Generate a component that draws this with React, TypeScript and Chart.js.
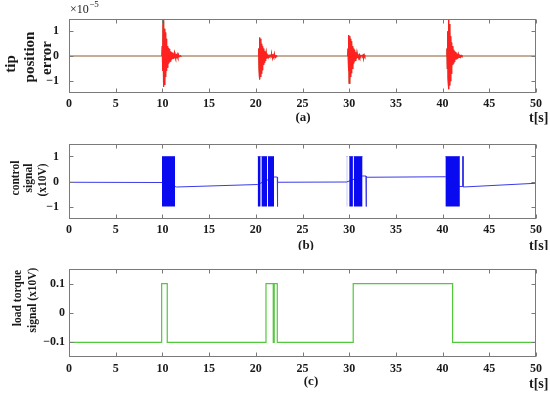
import React, { useEffect, useRef } from 'react';
import { Chart, registerables } from 'chart.js';

Chart.register(...registerables);

// ---------- tick labels ----------
const xTicks = [0, 5, 10, 15, 20, 25, 30, 35, 40, 45, 50];
const yTicksAB = [-1, 0, 1];
const yTicksC = [-0.1, 0, 0.1];

// ---------- axis titles ----------
const titleA = ['tip', 'position', 'error'];
const titleB = ['control', 'signal', '(x10V)'];
const titleC = ['load torque', 'signal (x10V)'];

// ---------- (a) tip position error (x1e-5), sampled bursts ----------
const errStep = 0.04;
const burst1Start = 9.95;
const burst1 = [0, 0.4, -0.6, 1.45, -1.25, 1.3, -1.15, 1.1, -1.0, 0.95, -0.85, 0.7, -0.6, 0.5, -0.45, 0.4, -0.35, 0.32, -0.3, 0.28, -0.25, 0.22, -0.2, 0.18, -0.17, 0.15, -0.14, 0.13, -0.12, 0.11, -0.1, 0.09, -0.08, 0.08, -0.07, 0.06, -0.05, 0.06, -0.07, 0.08, -0.07, 0.05, -0.04, 0.03, -0.03, 0.02, -0.02, 0.01, -0.01, 0.01, 0, 0];
const burst2Start = 20.27;
const burst2 = [0, 0.3, -0.5, 0.75, -0.95, 0.7, -0.85, 0.6, -0.7, 0.5, -0.55, 0.4, -0.45, 0.3, -0.35, 0.25, -0.25, 0.2, -0.18, 0.15, -0.13, 0.11, -0.1, 0.08, -0.07, 0.06, -0.05, 0.04, -0.03, 0.02, -0.02, 0.01, 0, 0.01, -0.01, 0, 0.05, -0.06, 0.07, -0.05, 0.03, -0.02, 0, 0, 0.04, -0.05, 0.04, -0.03, 0.01, 0];
const burst3Start = 29.84;
const burst3 = [0, 0.3, -0.6, 0.85, -1.1, 0.8, -1.0, 0.7, -0.85, 0.6, -0.7, 0.5, -0.5, 0.4, -0.4, 0.3, -0.3, 0.25, -0.22, 0.2, -0.18, 0.15, -0.14, 0.12, -0.1, 0.09, -0.08, 0.07, -0.06, 0.05, -0.04, 0.03, -0.03, 0.02, -0.02, 0.01, 0, 0, 0.01, 0, 0.05, -0.07, 0.08, -0.06, 0.04, -0.02, 0.01, 0];
const burst4Start = 40.43;
const burst4 = [0, 0.3, -0.5, 1.0, -0.9, 1.5, -1.35, 1.3, -1.2, 1.1, -1.0, 0.8, -0.7, 0.55, -0.5, 0.4, -0.35, 0.3, -0.28, 0.25, -0.22, 0.2, -0.18, 0.16, -0.14, 0.12, -0.11, 0.1, -0.09, 0.08, -0.07, 0.06, -0.06, 0.07, -0.06, 0.05, -0.04, 0.03, -0.02, 0.02, -0.01, 0.01, 0, 0, 0, 0, 0];

// ---------- (b) control signal (x10V) ----------
const ctrlT = [0, 9.96, 11.35, 11.5, 20.2, 21.95, 22.3, 22.3, 22.36, 29.73, 31.43, 31.8, 31.8, 31.86, 40.3, 41.85, 42.15, 42.15, 42.2, 42.2, 50];
const ctrlV = [-0.03, -0.04, -0.2, -0.22, -0.12, 0.18, 0.18, -1, -0.03, -0.02, 0.22, 0.22, -1, 0.17, 0.19, -0.2, -0.2, 1, 1, -0.22, -0.07];
// saturated switching intervals (signal oscillating between -1 and 1)
const blockStart = [9.96, 20.2, 20.6, 21.3, 29.73, 30.0, 30.48, 40.3];
const blockEnd = [11.35, 20.52, 21.22, 21.95, 29.8, 30.4, 31.43, 41.85];

// ---------- (c) load torque signal (x10V) ----------
const torqueT = [0, 9.92, 10.52, 21.09, 21.87, 21.97, 22.3, 30.43, 41.07, 50];
const torqueV = [-0.1, 0.1, -0.1, 0.1, -0.1, 0.1, -0.1, 0.1, -0.1, -0.1];

const burstPts = (start: number, vals: number[]) => vals.map((v, i) => ({ x: start + i * errStep, y: v }));
const bursts: [number, number[]][] = [
  [burst1Start, burst1],
  [burst2Start, burst2],
  [burst3Start, burst3],
  [burst4Start, burst4],
];
const errData = [{ x: 0, y: 0 }, ...bursts.flatMap(([s, v]) => burstPts(s, v)), { x: 50, y: 0 }];
const burstData = bursts.flatMap(([s, v]) => [...burstPts(s, v), { x: s + v.length * errStep, y: null as any }]);
const ctrlData = ctrlT.map((t, i) => ({ x: t, y: ctrlV[i] }));
const torqueData = torqueT.map((t, i) => ({ x: t, y: torqueV[i] }));

const SERIF = '"Liberation Serif", "DejaVu Serif", serif';
const TEXT = '#1a1a1a';
const FRAME = '#7a7a7a';

const framePlugin = {
  id: 'frame',
  afterDatasetsDraw(chart: any, _args: any, opts: any) {
    const { ctx, chartArea: a, scales } = chart;
    const xs = scales.x;
    const ys = scales.y;
    ctx.save();
    ctx.strokeStyle = FRAME;
    ctx.lineWidth = 1;
    const L = Math.round(a.left) + 0.5;
    const R = Math.round(a.right) - 0.5;
    const T = Math.round(a.top) + 0.5;
    const B = Math.round(a.bottom) - 0.5;
    ctx.strokeRect(L, T, R - L, B - T);
    ctx.beginPath();
    const tl = 4;
    xs.ticks.forEach((t: any) => {
      const px = Math.round(xs.getPixelForValue(t.value)) + 0.5;
      ctx.moveTo(px, B); ctx.lineTo(px, B - tl);
      ctx.moveTo(px, T); ctx.lineTo(px, T + tl);
    });
    ys.ticks.forEach((t: any) => {
      const py = Math.round(ys.getPixelForValue(t.value)) + 0.5;
      ctx.moveTo(L, py); ctx.lineTo(L + tl, py);
      ctx.moveTo(R, py); ctx.lineTo(R - tl, py);
    });
    ctx.stroke();

    ctx.fillStyle = TEXT;
    ctx.textBaseline = 'middle';
    ctx.font = `bold 13px ${SERIF}`;
    ctx.textAlign = 'center';
    ctx.fillText(opts.label, opts.labelX, a.bottom + opts.labelDy);
    ctx.font = `bold 14px ${SERIF}`;
    ctx.textAlign = 'left';
    ctx.fillText('t[s]', 529, a.bottom + opts.unitDy);
    if (opts.exponent) {
      ctx.font = `12px ${SERIF}`;
      ctx.fillText('\u00d710', 70, 10);
      const w = ctx.measureText('\u00d710').width;
      ctx.font = `9px ${SERIF}`;
      ctx.fillText('\u22125', 70 + w + 0.5, 5);
    }
    // rotated y-axis title lines
    ctx.font = `bold ${opts.tsize}px ${SERIF}`;
    ctx.textAlign = 'center';
    opts.title.forEach((line: string, i: number) => {
      ctx.save();
      ctx.translate(opts.tx[i], opts.ty[i]);
      ctx.rotate(-Math.PI / 2);
      ctx.fillText(line, 0, 0);
      ctx.restore();
    });
    ctx.restore();
  },
};

const fmt = (v: number) => (v === 0 ? '0' : (v < 0 ? '\u2212' : '') + String(Math.abs(v)));

function makeOptions(cfg: any) {
  return {
    animation: false,
    responsive: false,
    events: [],
    layout: { padding: { top: 19, right: 14, left: 0, bottom: 0 } },
    plugins: {
      legend: { display: false },
      tooltip: { enabled: false },
      frame: cfg.frame,
    },
    scales: {
      x: {
        type: 'linear',
        min: 0,
        max: 50,
        afterBuildTicks: (s: any) => { s.ticks = xTicks.map((v) => ({ value: v })); },
        afterFit: (s: any) => { s.height = cfg.xh; },
        grid: { display: false, drawTicks: false },
        border: { display: false },
        ticks: { font: { family: SERIF, size: 12, weight: 'bold' }, color: TEXT, padding: cfg.xpad, maxRotation: 0, autoSkip: false, callback: (v: number) => fmt(v) },
      },
      y: {
        type: 'linear',
        min: cfg.ymin,
        max: cfg.ymax,
        afterBuildTicks: (s: any) => { s.ticks = cfg.yticks.map((v: number) => ({ value: v })); },
        afterFit: (s: any) => { s.width = 69; },
        grid: { display: false, drawTicks: false },
        border: { display: false },
        ticks: { font: { family: SERIF, size: 12, weight: 'bold' }, color: TEXT, padding: cfg.ypad, callback: (v: number) => fmt(v) },
        title: { display: false },
      },
    },
  };
}

function Panel(props: { top: number; height: number; build: () => any }) {
  const ref = useRef<HTMLCanvasElement | null>(null);
  useEffect(() => {
    if (!ref.current) return;
    const chart = new Chart(ref.current, { ...props.build(), plugins: [framePlugin] });
    return () => chart.destroy();
  }, []);
  return (
    <div style={{ position: 'absolute', left: 0, top: props.top, width: 550, height: props.height }}>
      <canvas ref={ref} width={550} height={props.height} style={{ display: 'block' }} />
    </div>
  );
}

// note: in Chart.js the first dataset is painted on top
const buildA = () => ({
  type: 'line',
  data: {
    datasets: [
      { data: burstData, borderColor: '#ff2020', borderWidth: 1.2, pointRadius: 0, tension: 0, fill: false, spanGaps: false },
      { data: errData, borderColor: '#8e5a2c', borderWidth: 1.2, pointRadius: 0, tension: 0, fill: false },
    ],
  },
  options: makeOptions({
    xh: 32, xpad: 4, ymin: -1.5, ymax: 1.5, yticks: yTicksAB, ypad: 10,
    frame: {
      label: '(a)', labelX: 303, labelDy: 25, unitDy: 25, exponent: true,
      title: titleA, tsize: 15, tx: [11, 30, 47], ty: [64, 57, 58],
    },
  }),
});

const buildB = () => ({
  type: 'line',
  data: {
    datasets: [
      ...blockStart.map((s, i) => ({
        data: [{ x: s, y: 1 }, { x: blockEnd[i], y: 1 }],
        borderColor: '#0a0af0',
        borderWidth: 0.6,
        backgroundColor: '#0a0af0',
        pointRadius: 0,
        fill: { value: -1 },
      })),
      { data: ctrlData, borderColor: '#3a3ae6', borderWidth: 1, pointRadius: 0, tension: 0, fill: false },
    ],
  },
  options: makeOptions({
    xh: 31, xpad: 4, ymin: -1.5, ymax: 1.5, yticks: yTicksAB, ypad: 10,
    frame: {
      label: '(b)', labelX: 306, labelDy: 27, unitDy: 27, exponent: false,
      title: titleB, tsize: 11.5, tx: [16, 29, 43], ty: [53, 53, 55],
    },
  }),
});

const buildC = () => ({
  type: 'line',
  data: {
    datasets: [
      { data: torqueData, borderColor: '#52c83c', borderWidth: 1.2, pointRadius: 0, stepped: true, fill: false },
    ],
  },
  options: makeOptions({
    xh: 38, xpad: 5, ymin: -0.15, ymax: 0.15, yticks: yTicksC, ypad: 4,
    frame: {
      label: '(c)', labelX: 311, labelDy: 25, unitDy: 27, exponent: false,
      title: titleC, tsize: 11.5, tx: [18, 33], ty: [48, 50],
    },
  }),
});

export default function App() {
  return (
    <div style={{ position: 'absolute', left: 0, top: 0, width: 550, height: 395, background: '#fff', overflow: 'hidden' }}>
      <Panel top={0} height={125} build={buildA} />
      <Panel top={125} height={125} build={buildB} />
      <Panel top={250} height={145} build={buildC} />
    </div>
  );
}
